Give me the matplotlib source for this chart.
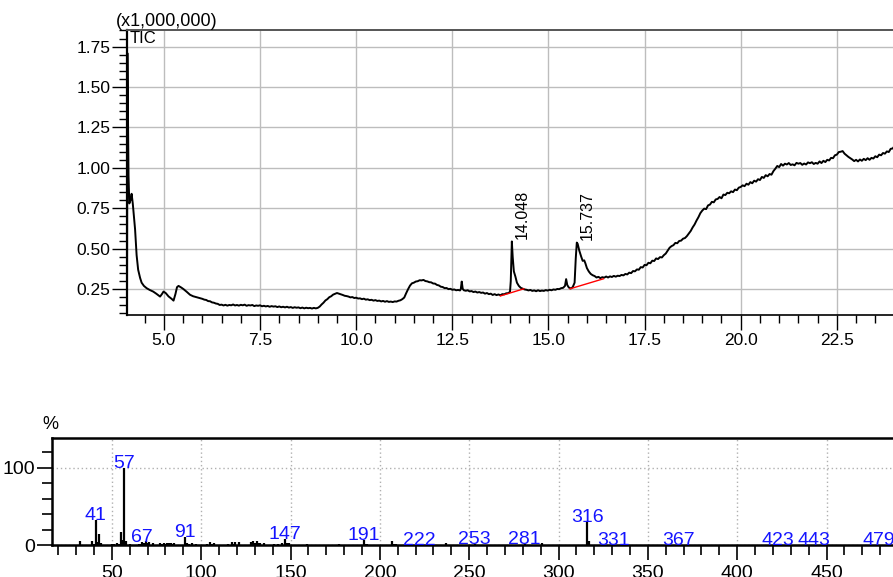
import matplotlib
matplotlib.use("Agg")
import matplotlib.pyplot as plt
from matplotlib.ticker import MultipleLocator, FormatStrFormatter, FixedLocator

plt.rcParams["font.family"] = ["Liberation Sans", "DejaVu Sans"]

# ---- Total ion chromatogram (retention time in min, intensity x1,000,000) ----
tic_time = [
    4.040, 4.050, 4.065, 4.080, 4.100, 4.130, 4.160, 4.190, 4.220, 4.250,
    4.290, 4.330, 4.380, 4.420, 4.480, 4.550, 4.630, 4.720, 4.800, 4.900,
    4.950, 4.990, 5.050, 5.120, 5.200, 5.250, 5.300, 5.340, 5.380, 5.450,
    5.510, 5.600, 5.680, 5.760, 5.850, 5.940,
    6.00, 6.05, 6.10, 6.15, 6.20, 6.25, 6.30, 6.35, 6.40, 6.45,
    6.50, 6.55, 6.60, 6.65, 6.70, 6.75, 6.80, 6.85, 6.90, 6.95,
    7.00, 7.05, 7.10, 7.15, 7.20, 7.25, 7.30, 7.35, 7.40, 7.45,
    7.50, 7.55, 7.60, 7.65, 7.70, 7.75, 7.80, 7.85, 7.90, 7.95,
    8.00, 8.05, 8.10, 8.15, 8.20, 8.25, 8.30, 8.35, 8.40, 8.45,
    8.50, 8.55, 8.60, 8.65, 8.70, 8.75, 8.80, 8.85, 8.90, 8.95,
    9.00, 9.05, 9.10, 9.15, 9.20, 9.25, 9.30, 9.35, 9.40, 9.45,
    9.50, 9.55, 9.60, 9.65, 9.70, 9.75, 9.80, 9.85, 9.90, 9.95,
    10.00, 10.05, 10.10, 10.15, 10.20, 10.25, 10.30, 10.35, 10.40, 10.45,
    10.50, 10.55, 10.60, 10.65, 10.70, 10.75, 10.80, 10.85, 10.90, 10.95,
    11.00, 11.05, 11.10, 11.15, 11.20, 11.25, 11.30, 11.35, 11.40, 11.45,
    11.50, 11.55, 11.60, 11.65, 11.70, 11.75, 11.80, 11.85, 11.90, 11.95,
    12.00, 12.05, 12.10, 12.15, 12.20, 12.25, 12.30, 12.35, 12.40, 12.45,
    12.50, 12.55, 12.60, 12.65, 12.70, 12.72, 12.745, 12.77, 12.80, 12.85,
    12.90, 12.95, 13.00, 13.05, 13.10, 13.15, 13.20, 13.25, 13.30, 13.35,
    13.40, 13.45, 13.50, 13.55, 13.60, 13.65, 13.70, 13.75, 13.80, 13.85,
    13.90, 13.95, 14.00, 14.02, 14.048, 14.07, 14.10, 14.14, 14.18, 14.23,
    14.28, 14.33, 14.38, 14.43, 14.48, 14.53, 14.58, 14.63, 14.68, 14.73,
    14.78, 14.83, 14.88, 14.93, 14.98, 15.03, 15.08, 15.13, 15.18, 15.23,
    15.28, 15.33, 15.38, 15.43, 15.46, 15.49, 15.53, 15.58, 15.63, 15.68,
    15.71, 15.737, 15.76, 15.80, 15.85, 15.89, 15.93, 15.96, 16.00, 16.05,
    16.10, 16.15, 16.20, 16.25, 16.30, 16.35, 16.40, 16.45, 16.50, 16.55,
    16.60, 16.65, 16.70, 16.75, 16.80, 16.85, 16.90, 16.95, 17.00, 17.05,
    17.10, 17.15, 17.20, 17.25, 17.30, 17.35, 17.40, 17.45, 17.50, 17.55,
    17.60, 17.65, 17.70, 17.75, 17.80, 17.85, 17.90, 17.95, 18.00, 18.05,
    18.10, 18.15, 18.20, 18.25, 18.30, 18.35, 18.40, 18.45, 18.50, 18.55,
    18.60, 18.65, 18.70, 18.75, 18.80, 18.85, 18.90, 18.95, 19.00, 19.05,
    19.10, 19.15, 19.20, 19.25, 19.30, 19.35, 19.40, 19.45, 19.50, 19.55,
    19.60, 19.65, 19.70, 19.75, 19.80, 19.85, 19.90, 19.95, 20.00, 20.05,
    20.10, 20.15, 20.20, 20.25, 20.30, 20.35, 20.40, 20.45, 20.50, 20.55,
    20.60, 20.65, 20.70, 20.75, 20.80, 20.85, 20.90, 20.95, 21.00, 21.05,
    21.10, 21.15, 21.20, 21.25, 21.30, 21.35, 21.40, 21.45, 21.50, 21.55,
    21.60, 21.65, 21.70, 21.75, 21.80, 21.85, 21.90, 21.95, 22.00, 22.05,
    22.10, 22.15, 22.20, 22.25, 22.30, 22.35, 22.40, 22.45, 22.50, 22.55,
    22.60, 22.65, 22.70, 22.75, 22.80, 22.85, 22.90, 22.95, 23.00, 23.05,
    23.10, 23.15, 23.20, 23.25, 23.30, 23.35, 23.40, 23.45, 23.50, 23.55,
    23.60, 23.65, 23.70, 23.75, 23.80, 23.85, 23.90, 23.95, 24.00,
]
tic_signal = [
    0.100, 1.710, 1.300, 0.950, 0.780, 0.800, 0.840, 0.780, 0.700, 0.620,
    0.460, 0.370, 0.320, 0.290, 0.270, 0.256, 0.245, 0.235, 0.222, 0.204,
    0.220, 0.235, 0.225, 0.205, 0.190, 0.179, 0.220, 0.262, 0.270, 0.260,
    0.250, 0.232, 0.215, 0.206, 0.200, 0.194,
    0.190, 0.185, 0.183, 0.176, 0.175, 0.168, 0.166, 0.161, 0.159, 0.152,
    0.154, 0.149, 0.153, 0.148, 0.152, 0.150, 0.155, 0.149, 0.152, 0.148,
    0.153, 0.150, 0.154, 0.147, 0.151, 0.149, 0.152, 0.145, 0.149, 0.147,
    0.150, 0.144, 0.147, 0.143, 0.146, 0.141, 0.145, 0.142, 0.144, 0.139,
    0.143, 0.138, 0.141, 0.137, 0.141, 0.136, 0.139, 0.134, 0.138, 0.135,
    0.137, 0.132, 0.136, 0.131, 0.135, 0.132, 0.134, 0.130, 0.134, 0.131,
    0.134, 0.142, 0.155, 0.166, 0.180, 0.188, 0.200, 0.206, 0.216, 0.221,
    0.226, 0.222, 0.218, 0.214, 0.209, 0.207, 0.204, 0.199, 0.201, 0.195,
    0.197, 0.192, 0.193, 0.188, 0.191, 0.185, 0.187, 0.182, 0.184, 0.179,
    0.182, 0.177, 0.179, 0.174, 0.177, 0.172, 0.176, 0.171, 0.173, 0.170,
    0.174, 0.173, 0.178, 0.181, 0.188, 0.198, 0.225, 0.250, 0.272, 0.286,
    0.290, 0.297, 0.299, 0.305, 0.304, 0.307, 0.300, 0.298, 0.293, 0.292,
    0.285, 0.284, 0.276, 0.273, 0.265, 0.263, 0.256, 0.257, 0.250, 0.252,
    0.246, 0.248, 0.243, 0.245, 0.242, 0.250, 0.297, 0.252, 0.243, 0.240,
    0.243, 0.236, 0.238, 0.232, 0.235, 0.229, 0.232, 0.227, 0.229, 0.222,
    0.226, 0.219, 0.222, 0.214, 0.219, 0.213, 0.217, 0.212, 0.219, 0.218,
    0.224, 0.225, 0.233, 0.300, 0.545, 0.450, 0.360, 0.328, 0.290, 0.270,
    0.258, 0.253, 0.248, 0.246, 0.242, 0.245, 0.239, 0.242, 0.237, 0.243,
    0.238, 0.241, 0.239, 0.244, 0.241, 0.246, 0.243, 0.248, 0.246, 0.251,
    0.250, 0.256, 0.258, 0.270, 0.312, 0.275, 0.260, 0.254, 0.262, 0.290,
    0.440, 0.538, 0.530, 0.490, 0.452, 0.425, 0.428, 0.410, 0.380, 0.359,
    0.344, 0.336, 0.331, 0.322, 0.326, 0.318, 0.324, 0.321, 0.328, 0.322,
    0.329, 0.325, 0.332, 0.327, 0.333, 0.331, 0.338, 0.335, 0.344, 0.341,
    0.352, 0.349, 0.362, 0.360, 0.372, 0.370, 0.386, 0.384, 0.400, 0.398,
    0.413, 0.410, 0.426, 0.424, 0.440, 0.436, 0.448, 0.446, 0.460, 0.470,
    0.488, 0.506, 0.516, 0.522, 0.536, 0.534, 0.548, 0.550, 0.562, 0.566,
    0.578, 0.594, 0.610, 0.632, 0.650, 0.674, 0.695, 0.720, 0.736, 0.748,
    0.745, 0.768, 0.773, 0.790, 0.787, 0.805, 0.808, 0.820, 0.812, 0.835,
    0.832, 0.846, 0.843, 0.855, 0.850, 0.866, 0.862, 0.878, 0.882, 0.892,
    0.887, 0.902, 0.896, 0.912, 0.905, 0.921, 0.915, 0.930, 0.925, 0.944,
    0.938, 0.955, 0.948, 0.962, 0.958, 0.980, 0.995, 1.012, 1.005, 1.024,
    1.014, 1.026, 1.021, 1.030, 1.018, 1.022, 1.016, 1.031, 1.026, 1.030,
    1.019, 1.027, 1.021, 1.034, 1.029, 1.035, 1.024, 1.031, 1.026, 1.040,
    1.030, 1.044, 1.036, 1.050, 1.046, 1.062, 1.060, 1.078, 1.082, 1.098,
    1.100, 1.104, 1.088, 1.078, 1.068, 1.060, 1.052, 1.042, 1.050, 1.040,
    1.052, 1.044, 1.056, 1.048, 1.060, 1.050, 1.062, 1.058, 1.072, 1.066,
    1.082, 1.078, 1.092, 1.088, 1.102, 1.098, 1.118, 1.120, 1.135,
]

# Integrated peaks: retention time and apex height
peak_times = [14.048, 15.737]
peak_heights = [0.545, 0.538]
peak_labels = ["14.048", "15.737"]
# Baselines drawn under the integrated peaks (start/end time, start/end level)
baseline_t = [(13.75, 14.36), (15.56, 16.43)]
baseline_v = [(0.208, 0.252), (0.252, 0.314)]

# ---- Mass spectrum (m/z, relative intensity %) ----
ms_mz = [32, 39, 40, 41, 42, 43, 44, 50, 51, 53, 54, 55, 56, 57, 58, 60,
         65, 66, 67, 68, 69, 70, 71, 73, 77, 78, 79, 80, 81, 82, 83, 84, 85,
         91, 92, 93, 95, 97, 103, 105, 106, 107, 115, 117, 118, 119, 121,
         128, 129, 130, 131, 132, 133, 135, 141, 143, 145, 147, 148, 149,
         159, 161, 165, 177, 179, 191, 192, 193, 207, 208, 209, 222, 237,
         239, 253, 255, 267, 269, 281, 282, 291, 295, 303, 305, 316, 317,
         331, 341, 355, 367, 401, 405, 423, 443, 479]
ms_int = [6.0, 5.5, 2.0, 32.5, 4.0, 14.0, 3.5, 1.5, 2.0, 3.5, 2.0, 17.0, 7.0, 100.0, 5.0, 1.5,
          2.0, 2.0, 4.0, 2.5, 5.0, 3.0, 4.5, 2.5, 2.5, 1.5, 3.0, 2.0, 3.0, 2.5, 3.0, 2.0, 3.0,
          11.0, 3.0, 2.0, 2.5, 2.0, 1.5, 4.5, 1.5, 3.0, 2.0, 4.5, 2.0, 4.5, 4.0,
          4.5, 5.5, 3.0, 5.0, 3.0, 3.5, 2.5, 1.5, 2.0, 3.5, 8.5, 2.5, 3.0,
          2.0, 1.0, 1.0, 1.5, 1.0, 7.0, 2.0, 1.5, 6.0, 2.0, 1.5, 0.6, 3.0,
          1.0, 1.7, 0.8, 1.0, 0.8, 1.7, 0.8, 2.8, 0.8, 0.8, 0.8, 29.5, 5.5,
          0.6, 0.6, 0.5, 0.6, 0.5, 0.5, 0.6, 0.6, 0.6]
ms_labels = [41, 57, 67, 91, 147, 191, 222, 253, 281, 316, 331, 367, 423, 443, 479]

W, H = 893, 577
fig = plt.figure(figsize=(W / 100, H / 100), dpi=100)

# ---------------- chromatogram ----------------
ax1 = fig.add_axes([127 / W, 1 - 315 / H, 1 - 127 / W, (315 - 30) / H])
ax1.plot(tic_time, tic_signal, color="black", lw=1.4, zorder=3)
for (t0, t1), (v0, v1) in zip(baseline_t, baseline_v):
    ax1.plot([t0, t1], [v0, v1], color="red", lw=1.0, zorder=4)
for t, h, lab in zip(peak_times, peak_heights, peak_labels):
    ax1.annotate(lab, xy=(t, h), xytext=(7.8, 1.5), textcoords="offset points",
                 rotation=90, ha="center", va="bottom", fontsize=11.5)

ax1.set_xlim(4.04, 23.96)
ax1.set_ylim(0.09, 1.853)
ax1.xaxis.set_major_locator(MultipleLocator(2.5))
ax1.xaxis.set_minor_locator(MultipleLocator(0.5))
ax1.yaxis.set_major_locator(MultipleLocator(0.25))
ax1.yaxis.set_minor_locator(MultipleLocator(0.05))
ax1.xaxis.set_major_formatter(FormatStrFormatter("%.1f"))
ax1.yaxis.set_major_formatter(FormatStrFormatter("%.2f"))
ax1.grid(True, which="major", color="#bdbdbd", lw=1.0, zorder=0)
ax1.tick_params(which="major", direction="out", length=11, width=1, labelsize=12.5, pad=2)
ax1.tick_params(axis="y", which="major", pad=1)
ax1.tick_params(which="minor", direction="out", length=6, width=1)
ax1.spines["right"].set_visible(False)
ax1.spines["top"].set_color("#555555")
ax1.spines["top"].set_linewidth(1.4)
ax1.spines["left"].set_linewidth(1.6)
ax1.spines["bottom"].set_linewidth(1.2)
ax1.text(0.003, 0.997, "TIC", transform=ax1.transAxes, ha="left", va="top", fontsize=12)
fig.text(116 / W, 1 - 30 / H, "(x1,000,000)", ha="left", va="bottom", fontsize=13)

# ---------------- mass spectrum ----------------
ax2 = fig.add_axes([52 / W, 1 - 545.3 / H, 1 - 52 / W, (545.3 - 438) / H])
ax2.vlines(ms_mz, 0, ms_int, color="black", lw=1.6, zorder=3)
lookup = dict(zip(ms_mz, ms_int))
for m in ms_labels:
    ax2.text(m, lookup[m], str(m), color="#1414ff", ha="center", va="baseline",
             fontsize=14, zorder=4, clip_on=False)

ax2.set_xlim(16.5, 487.2)
ax2.set_ylim(0, 138)
ax2.xaxis.set_major_locator(MultipleLocator(50))
ax2.xaxis.set_minor_locator(MultipleLocator(10))
ax2.yaxis.set_major_locator(FixedLocator([0, 100]))
ax2.yaxis.set_minor_locator(FixedLocator([20, 40, 60, 80, 120]))
ax2.grid(True, which="major", color="#b0b0b0", lw=1.0, ls=(0, (1, 2)), zorder=0)
ax2.tick_params(which="major", direction="out", length=11, width=1.2, labelsize=14, pad=3)
ax2.tick_params(which="minor", direction="out", length=7, width=1.2)
ax2.tick_params(axis="y", which="major", pad=1)
ax2.spines["right"].set_visible(False)
for s in ("top", "left", "bottom"):
    ax2.spines[s].set_linewidth(1.8)
fig.text(50 / W, 1 - 433 / H, "%", ha="center", va="bottom", fontsize=13)

fig.savefig("out.png", dpi=100)
